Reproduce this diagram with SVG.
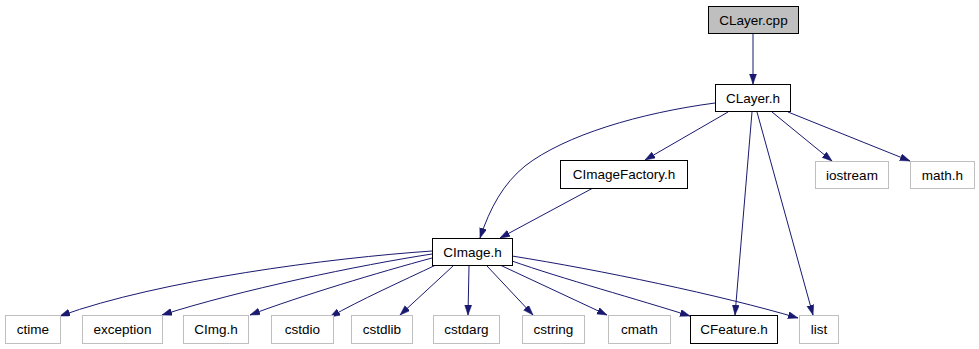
<svg xmlns="http://www.w3.org/2000/svg" width="979" height="349" viewBox="0 0 979 349">
<style>
  .box { fill: #ffffff; stroke: #000000; stroke-width: 1; }
  .ext { fill: #ffffff; stroke: #bfbfbf; stroke-width: 1; }
  .cur { fill: #bfbfbf; stroke: #000000; stroke-width: 1; }
  text { font-family: "Liberation Sans", Arial, sans-serif; font-size: 13.5px; fill: #000000; text-anchor: middle; }
  .edge { fill: none; stroke: #191970; stroke-width: 1; marker-end: url(#arrow); }
</style>
<defs>
  <marker id="arrow" markerUnits="userSpaceOnUse" markerWidth="11" markerHeight="8" refX="10" refY="3.5" orient="auto">
    <path d="M0,0 L10,3.5 L0,7 z" fill="#191970" stroke="#191970" stroke-width="0.5"/>
  </marker>
</defs>
<rect width="979" height="349" fill="#ffffff"/>

<g id="edges">
  <path class="edge" d="M753,33 L753,84"/>
  <path class="edge" d="M715,103 C640,113 565,135 525,166 C503,184 490,208 480,238"/>
  <path class="edge" d="M728,112 L645,160"/>
  <path class="edge" d="M593,188 L500,238"/>
  <path class="edge" d="M752,112 L735,315"/>
  <path class="edge" d="M757,112 L813,315"/>
  <path class="edge" d="M772,112 L832,161"/>
  <path class="edge" d="M788,112 L910,161"/>
  <path class="edge" d="M432,251 C330,258 160,280 60,316"/>
  <path class="edge" d="M432,254 C360,265 240,290 162,315"/>
  <path class="edge" d="M432,258 C380,272 300,296 250,315"/>
  <path class="edge" d="M438,264 C400,282 360,300 330,317"/>
  <path class="edge" d="M453,266 L400,315"/>
  <path class="edge" d="M469,266 L468,315"/>
  <path class="edge" d="M487,266 L533,315"/>
  <path class="edge" d="M500,265 L607,315"/>
  <path class="edge" d="M512,261 C560,278 640,300 690,316"/>
  <path class="edge" d="M512,256 C600,270 720,295 798,318"/>
</g>

<g id="node-clayer-cpp"><rect class="cur" x="708.5" y="6.5" width="90" height="27"/><text x="753.5" y="24.5">CLayer.cpp</text></g>
<g id="node-clayer-h"><rect class="box" x="715.5" y="84.5" width="75" height="27"/><text x="753" y="102.5">CLayer.h</text></g>
<g id="node-cimagefactory-h"><rect class="box" x="560.5" y="160.5" width="127" height="28"/><text x="624" y="179">CImageFactory.h</text></g>
<g id="node-iostream"><rect class="ext" x="815.5" y="161.5" width="73" height="27"/><text x="852" y="179.5">iostream</text></g>
<g id="node-math-h"><rect class="ext" x="910.5" y="161.5" width="64" height="27"/><text x="942.5" y="179.5">math.h</text></g>
<g id="node-cimage-h"><rect class="box" x="432.5" y="238.5" width="80" height="27"/><text x="472.5" y="256.5">CImage.h</text></g>
<g id="node-ctime"><rect class="ext" x="5.5" y="315.5" width="55" height="28"/><text x="33" y="334">ctime</text></g>
<g id="node-exception"><rect class="ext" x="82.5" y="315.5" width="80" height="28"/><text x="122.5" y="334">exception</text></g>
<g id="node-cimg-h"><rect class="ext" x="183.5" y="315.5" width="65" height="28"/><text x="216" y="334">CImg.h</text></g>
<g id="node-cstdio"><rect class="ext" x="271.5" y="315.5" width="62" height="28"/><text x="302.5" y="334">cstdio</text></g>
<g id="node-cstdlib"><rect class="ext" x="351.5" y="315.5" width="61" height="28"/><text x="382" y="334">cstdlib</text></g>
<g id="node-cstdarg"><rect class="ext" x="433.5" y="315.5" width="66" height="28"/><text x="466.5" y="334">cstdarg</text></g>
<g id="node-cstring"><rect class="ext" x="522.5" y="315.5" width="62" height="28"/><text x="553.5" y="334">cstring</text></g>
<g id="node-cmath"><rect class="ext" x="608.5" y="315.5" width="62" height="28"/><text x="639.5" y="334">cmath</text></g>
<g id="node-cfeature-h"><rect class="box" x="690.5" y="315.5" width="87" height="28"/><text x="734" y="334">CFeature.h</text></g>
<g id="node-list"><rect class="ext" x="799.5" y="315.5" width="39" height="28"/><text x="819" y="334">list</text></g>
</svg>
